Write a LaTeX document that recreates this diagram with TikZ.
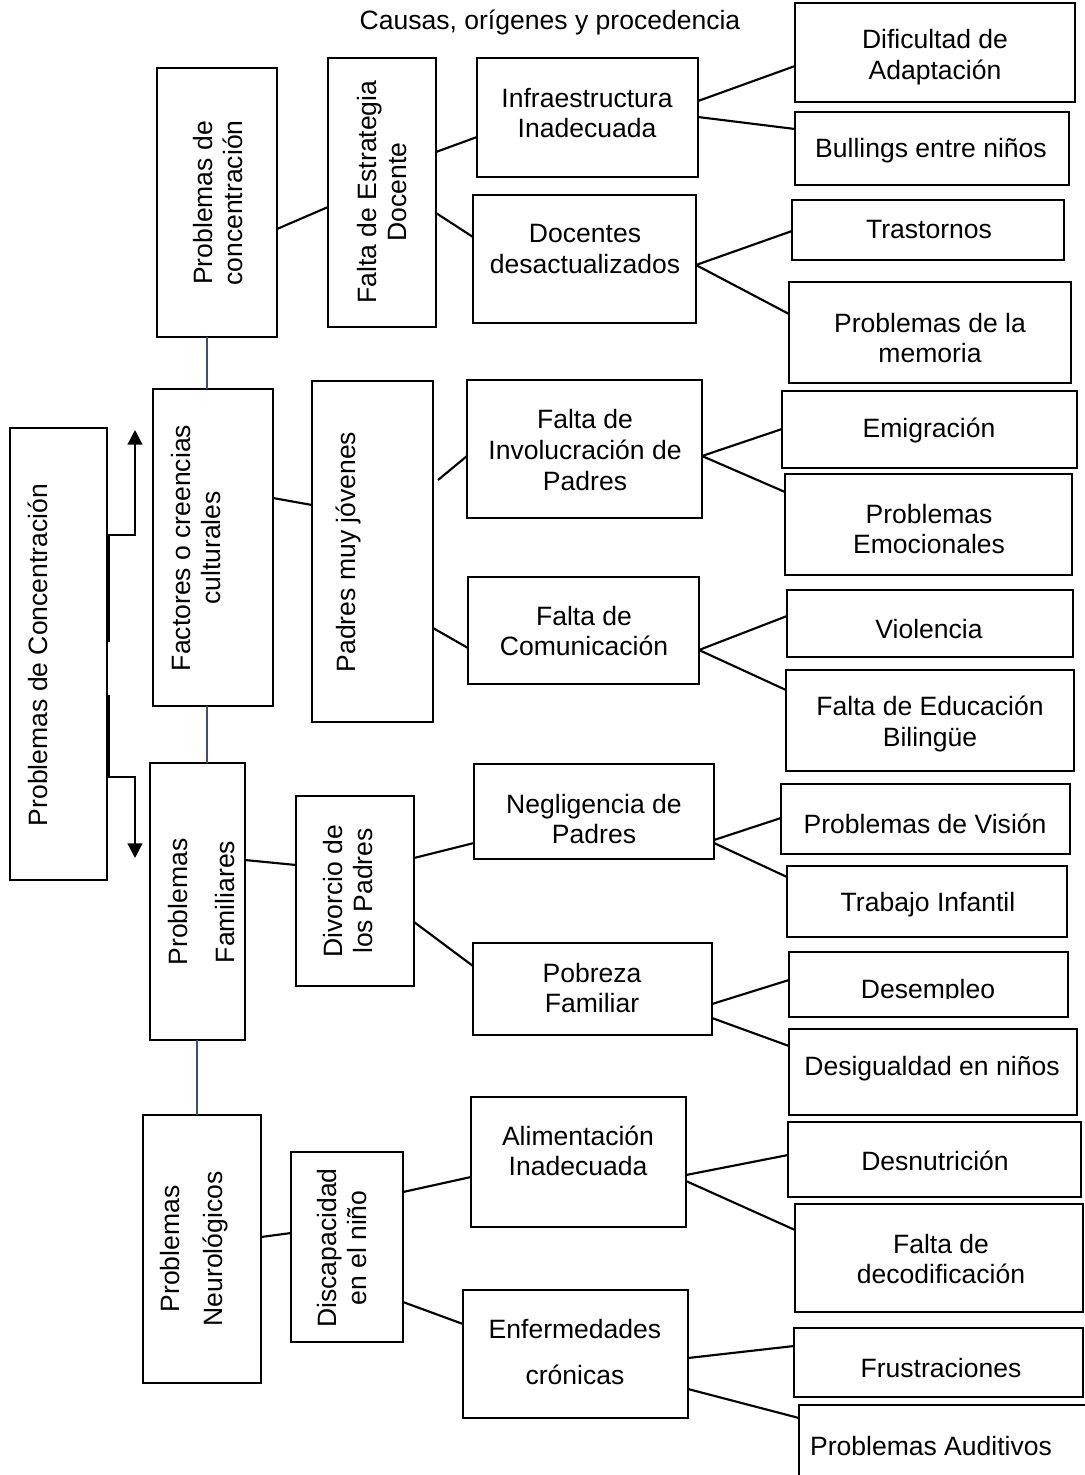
\documentclass[tikz,border=0pt]{standalone}
\usepackage{fontspec}
\setmainfont{Liberation Sans}
\usetikzlibrary{arrows.meta}
\definecolor{linkblue}{RGB}{52,82,122}
\tikzset{
 box/.style={draw, line width=1.8pt, inner sep=0pt, outer sep=0pt},
 txt/.style={font=\fontsize{19.9}{23}\selectfont, align=center, inner sep=0pt},
 htxt/.style={txt, yshift=-2.2pt},
 rtxt/.style={txt, rotate=90},
 conn/.style={line width=1.6pt},
 vconn/.style={line width=1.7pt, draw=linkblue},
 arr/.style={line width=1.8pt, -{Triangle[width=11pt,length=11pt]}},
}
\newcommand\bx[5]{\node[box, minimum width={0.75*(#4-#2)}, minimum height={0.75*(#5-#3)}] (#1) at ({(#2+#4)/2},{(#3+#5)/2}) {};}
\begin{document}
\begin{tikzpicture}[x=0.75pt,y=-0.75pt]
\useasboundingbox (0,0) rectangle (1085,1475);
\node[htxt] (title) at (550,20) {Causas, orígenes y procedencia};

% main
\bx{M}{10}{428}{107}{880}
\node[rtxt] (tM) at (38,655) {Problemas de Concentración};
\draw[arr] (109,642) -- (109,535) -- (135,535) -- (135,430);
\draw[arr] (109,695) -- (109,777) -- (135,777) -- (135,858);

% column 1
\bx{B1}{157}{68}{277}{337}
\bx{B2}{153}{389}{273}{706}
\bx{B3}{150}{763}{245}{1040}
\bx{B4}{143}{1115}{261}{1383}
\node[rtxt] (tB1) at (218,203) {Problemas de\\concentración};
\node[rtxt] (tB2) at (196,548) {Factores o creencias\\culturales};
\node[rtxt] (tB3a) at (178,902) {Problemas};
\node[rtxt] (tB3b) at (225,902) {Familiares};
\node[rtxt] (tB4a) at (170,1249) {Problemas};
\node[rtxt] (tB4b) at (215,1249) {Neurológicos};
\draw[vconn] (207,0 |- B1.south) -- (207,0 |- B2.north);
\draw[vconn] (207,0 |- B2.south) -- (207,0 |- B3.north);
\draw[vconn] (197,0 |- B3.south) -- (197,0 |- B4.north);

% column 2
\bx{C1}{328}{58}{436}{327}
\bx{C2}{312}{381}{433}{722}
\bx{C3}{296}{796}{414}{986}
\bx{C4}{291}{1152}{403}{1342}
\node[rtxt] (tC1) at (382,192) {Falta de Estrategia\\Docente};
\node[rtxt] (tC2) at (348,552) {Padres muy jóvenes};
\node[rtxt] (tC3) at (348,891) {Divorcio de\\los Padres};
\node[rtxt] (tC4) at (342,1248) {Discapacidad\\en el niño};
\draw[conn] (B1.east |- 0,229) -- (C1.west |- 0,207);
\draw[conn] (B2.east |- 0,498) -- (C2.west |- 0,505);
\draw[conn] (B3.east |- 0,860) -- (C3.west |- 0,865);
\draw[conn] (B4.east |- 0,1237) -- (C4.west |- 0,1233);

% column 3
\bx{D1}{477}{58}{698}{177}
\bx{D2}{473}{195}{696}{323}
\bx{D3}{467}{380}{702}{518}
\bx{D4}{468}{577}{699}{684}
\bx{D5}{474}{764}{714}{859}
\bx{D6}{473}{943}{712}{1035}
\bx{D7}{471}{1097}{686}{1227}
\bx{D8}{463}{1290}{688}{1418}
\node[htxt] (tD1) at (587,110) {Infraestructura\\Inadecuada};
\node[htxt] (tD2) at (585,246) {Docentes\\desactualizados};
\node[htxt] (tD3) at (585,447) {Falta de\\Involucración de\\Padres};
\node[htxt] (tD4) at (584,628) {Falta de\\Comunicación};
\node[htxt] (tD5) at (594,816) {Negligencia de\\Padres};
\node[htxt] (tD6) at (592,985) {Pobreza\\Familiar};
\node[htxt] (tD7) at (578,1148) {Alimentación\\Inadecuada};
\node[htxt] (tD8a) at (575,1326) {Enfermedades};
\node[htxt] (tD8b) at (575,1372) {crónicas};
\coordinate (c2free) at (438,480);
\draw[conn] (C1.east |- 0,152) -- (D1.west |- 0,137);
\draw[conn] (C1.east |- 0,213) -- (D2.west |- 0,237);
\draw[conn] (c2free) -- (D3.west |- 0,456);
\draw[conn] (C2.east |- 0,628) -- (D4.west |- 0,648);
\draw[conn] (C3.east |- 0,858) -- (D5.west |- 0,843);
\draw[conn] (C3.east |- 0,922) -- (D6.west |- 0,966);
\draw[conn] (C4.east |- 0,1192) -- (D7.west |- 0,1177);
\draw[conn] (C4.east |- 0,1302) -- (D8.west |- 0,1324);

% column 4
\bx{E1}{795}{3}{1075}{102}
\bx{E2}{795}{112}{1069}{185}
\bx{E3}{792}{200}{1064}{260}
\bx{E4}{789}{282}{1071}{383}
\bx{E5}{782}{391}{1077}{468}
\bx{E6}{785}{474}{1072}{575}
\bx{E7}{787}{590}{1073}{657}
\bx{E8}{786}{670}{1074}{771}
\bx{E9}{781}{784}{1070}{854}
\bx{E10}{787}{866}{1067}{937}
\bx{E11}{789}{952}{1068}{1017}
\bx{E12}{789}{1029}{1077}{1115}
\bx{E13}{788}{1122}{1081}{1197}
\bx{E14}{795}{1204}{1083}{1312}
\bx{E15}{794}{1328}{1083}{1397}
\begin{scope}
\clip (0,0) rectangle (1085,1475);
\bx{E16}{799}{1405}{1100}{1490}
\end{scope}
\node[htxt] (tE1) at (935,54) {Dificultad de\\Adaptación};
\node[htxt] (tE2) at (931,148) {Bullings entre niños};
\node[htxt] (tE3) at (929,227) {Trastornos};
\node[htxt] (tE4) at (930,335) {Problemas de la\\memoria};
\node[htxt] (tE5) at (929,428) {Emigración};
\node[htxt] (tE6) at (929,526) {Problemas\\Emocionales};
\node[htxt] (tE7) at (929,626) {Violencia};
\node[htxt] (tE8) at (930,721) {Falta de Educación\\Bilingüe};
\node[htxt] (tE9) at (925,821) {Problemas de Visión};
\node[htxt] (tE10) at (928,902) {Trabajo Infantil};
\begin{scope}
\clip (789,952) rectangle (1068,998);
\node[txt, anchor=base] (tE11) at (928,998) {Desempleo};
\end{scope}
\node[htxt] (tE12) at (932,1066) {Desigualdad en niños};
\node[htxt] (tE13) at (935,1158) {Desnutrición};
\node[htxt] (tE14) at (941,1256) {Falta de\\decodificación};
\node[htxt] (tE15) at (941,1365) {Frustraciones};
\node[htxt] (tE16) at (931,1443) {Problemas Auditivos};
\draw[conn] (D1.east |- 0,101) -- (E1.west |- 0,66);
\draw[conn] (D1.east |- 0,117) -- (E2.west |- 0,129);
\draw[conn] (D2.east |- 0,265) -- (E3.west |- 0,231);
\draw[conn] (D2.east |- 0,265) -- (E4.west |- 0,314);
\draw[conn] (D3.east |- 0,456) -- (E5.west |- 0,429);
\draw[conn] (D3.east |- 0,456) -- (E6.west |- 0,492);
\draw[conn] (D4.east |- 0,650) -- (E7.west |- 0,616);
\draw[conn] (D4.east |- 0,650) -- (E8.west |- 0,690);
\draw[conn] (D5.east |- 0,840) -- (E9.west |- 0,818);
\draw[conn] (D5.east |- 0,843) -- (E10.west |- 0,877);
\draw[conn] (D6.east |- 0,1004) -- (E11.west |- 0,980);
\draw[conn] (D6.east |- 0,1018) -- (E12.west |- 0,1046);
\draw[conn] (D7.east |- 0,1175) -- (E13.west |- 0,1155);
\draw[conn] (D7.east |- 0,1181) -- (E14.west |- 0,1230);
\draw[conn] (D8.east |- 0,1358) -- (E15.west |- 0,1346);
\draw[conn] (D8.east |- 0,1389) -- (E16.west |- 0,1418);
\end{tikzpicture}
\end{document}
